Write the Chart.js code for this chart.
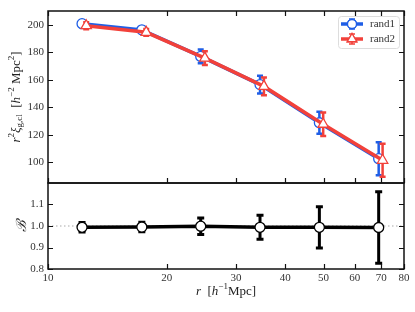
<!DOCTYPE html>
<html>
<head>
<meta charset="utf-8">
<script src="https://cdn.jsdelivr.net/npm/chart.js@4/dist/chart.umd.min.js"></script>
<style>
  body { margin: 0; background: #fff; }
  #wrap { position: relative; width: 415px; height: 312px; overflow: hidden; }
  canvas { position: absolute; left: 0; }
  #top { top: 0; }
  #bot { top: 160px; }
</style>
</head>
<body>
<div id="wrap">
  <canvas id="top" width="415" height="210"></canvas>
  <canvas id="bot" width="415" height="152"></canvas>
</div>
<script>
// separation bins (blue), red series is drawn slightly shifted right
const radii = [12.2, 17.3, 24.4, 34.5, 48.8, 69.0];
const radiiShift = [12.5, 17.75, 25.0, 35.3, 49.9, 70.6];

const rand1 = [200.8, 196.3, 177.0, 156.5, 128.8, 102.7];
const rand1Err = [2.5, 2.5, 5.0, 6.5, 8.0, 12.0];
const rand2 = [199.3, 194.5, 175.7, 155.2, 127.7, 101.5];
const rand2Err = [2.5, 2.5, 5.0, 6.5, 8.5, 12.0];

const ratio = [0.994, 0.995, 0.999, 0.994, 0.994, 0.993];
const ratioErr = [0.022, 0.022, 0.038, 0.056, 0.096, 0.166];

const xTicks = [10, 20, 30, 40, 50, 60, 70, 80];
const yTicksTop = [100, 120, 140, 160, 180, 200];
const yTicksBot = [0.8, 0.9, 1.0, 1.1];

const BLUE = '#1f5ee6';
const RED = '#f2413a';
const SERIF = "'Liberation Serif', 'DejaVu Serif', serif";

Chart.defaults.font.family = SERIF;
Chart.defaults.color = '#222';

function pts(xs, ys) {
    return xs.map((x, i) => ({ x: x, y: ys[i] }));
}

// inward ticks + frame
const framePlugin = {
    id: 'frame',
    afterDraw(chart, args, opts) {
        const c = chart.ctx, a = chart.chartArea;
        const xs = chart.scales.x, ys = chart.scales.y;
        c.save();
        c.strokeStyle = '#111';
        c.lineWidth = 1.2;
        xTicks.forEach(t => {
            const px = Math.round(xs.getPixelForValue(t)) + 0.5;
            c.beginPath();
            c.moveTo(px, a.bottom); c.lineTo(px, a.bottom - 5);
            if (opts.topTicks) { c.moveTo(px, a.top); c.lineTo(px, a.top + 5); }
            c.stroke();
        });
        opts.yTicks.forEach(t => {
            const py = Math.round(ys.getPixelForValue(t)) + 0.5;
            c.beginPath();
            c.moveTo(a.left, py); c.lineTo(a.left + 5, py);
            c.moveTo(a.right, py); c.lineTo(a.right - 5, py);
            c.stroke();
        });
        c.lineWidth = 1.5;
        c.strokeRect(a.left, a.top, a.right - a.left, a.bottom - a.top);
        c.restore();
    }
};

// error bars, drawn from the data arrays through the scales
function drawErr(chart, xs, ys, errs, color, width, cap) {
    const c = chart.ctx;
    const sx = chart.scales.x, sy = chart.scales.y;
    c.save();
    c.strokeStyle = color;
    c.lineWidth = width;
    xs.forEach((x, i) => {
        const px = sx.getPixelForValue(x);
        const y0 = sy.getPixelForValue(ys[i] - errs[i]);
        const y1 = sy.getPixelForValue(ys[i] + errs[i]);
        c.beginPath();
        c.moveTo(px, y0); c.lineTo(px, y1);
        c.moveTo(px - cap, y0); c.lineTo(px + cap, y0);
        c.moveTo(px - cap, y1); c.lineTo(px + cap, y1);
        c.stroke();
    });
    c.restore();
}

const topErr = {
    id: 'topErr',
    beforeDatasetDraw(chart, args) {
        if (args.index === 0) drawErr(chart, radii, rand1, rand1Err, BLUE, 2.5, 3);
        if (args.index === 1) drawErr(chart, radiiShift, rand2, rand2Err, RED, 2.5, 3);
    }
};

const topDecor = {
    id: 'topDecor',
    afterDraw(chart) {
        const c = chart.ctx;
        // y title
        c.save();
        c.translate(17, 97);
        c.rotate(-Math.PI / 2);
        c.fillStyle = '#222';
        c.textBaseline = 'middle';
        const parts = [
            ['r', 'italic 13px', 0], ['2', '9px', -5], ['ξ', 'italic 13px', 0],
            ['g,cl', '9px', 3], ['  [', '13px', 0], ['h', 'italic 13px', 0],
            ['−2', '9px', -5], [' Mpc', '13px', 0], ['2', '9px', -5], [']', '13px', 0]
        ];
        let w = 0;
        parts.forEach(p => { c.font = p[1] + ' ' + SERIF; w += c.measureText(p[0]).width; });
        let x = -w / 2;
        parts.forEach(p => {
            c.font = p[1] + ' ' + SERIF;
            c.fillText(p[0], x, p[2]);
            x += c.measureText(p[0]).width;
        });
        c.restore();

        // legend
        c.save();
        const lx = 338, ly = 16, lw = 61, lh = 32;
        c.fillStyle = 'rgba(255,255,255,0.9)';
        c.strokeStyle = '#ddd';
        c.lineWidth = 1;
        c.beginPath();
        c.roundRect(lx + 0.5, ly + 0.5, lw, lh, 3);
        c.fill(); c.stroke();
        const rows = [['rand1', BLUE, 'circle', 24], ['rand2', RED, 'triangle', 39]];
        rows.forEach(r => {
            const y = r[3];
            c.strokeStyle = r[1];
            c.lineWidth = 3.5;
            c.beginPath(); c.moveTo(341, y); c.lineTo(363, y); c.stroke();
            c.lineWidth = 1.5;
            c.beginPath();
            c.moveTo(352, y - 5); c.lineTo(352, y + 5);
            c.moveTo(349, y - 5); c.lineTo(355, y - 5);
            c.moveTo(349, y + 5); c.lineTo(355, y + 5);
            c.stroke();
            c.fillStyle = '#fff';
            c.lineWidth = 1.3;
            Chart.helpers.drawPoint(c, { pointStyle: r[2], radius: r[2] === 'circle' ? 4.5 : 5.5, borderWidth: 1.3 }, 352, y);
            c.fill(); c.stroke();
            c.fillStyle = '#333';
            c.font = '11px ' + SERIF;
            c.textBaseline = 'middle';
            c.fillText(r[0], 370, y + 0.5);
        });
        c.restore();
    }
};

new Chart(document.getElementById('top'), {
    type: 'line',
    data: {
        datasets: [
            {
                label: 'rand1', data: pts(radii, rand1), order: 1,
                borderColor: BLUE, borderWidth: 3.5,
                pointStyle: 'circle', pointRadius: 5, pointBorderWidth: 1.3,
                pointBackgroundColor: '#fff', pointBorderColor: BLUE
            },
            {
                label: 'rand2', data: pts(radiiShift, rand2), order: 0,
                borderColor: RED, borderWidth: 3.5,
                pointStyle: 'triangle', pointRadius: 6, pointBorderWidth: 1.3,
                pointBackgroundColor: '#fff', pointBorderColor: RED
            }
        ]
    },
    options: {
        responsive: false,
        animation: false,
        layout: { padding: { top: 11, bottom: 27, left: 0, right: 11 } },
        plugins: {
            legend: { display: false },
            tooltip: { enabled: false },
            frame: { topTicks: true, yTicks: yTicksTop }
        },
        scales: {
            x: {
                type: 'logarithmic', min: 10, max: 80, display: false
            },
            y: {
                min: 85, max: 210,
                grid: { display: false, drawTicks: false },
                border: { display: false },
                afterBuildTicks: s => { s.ticks = yTicksTop.map(v => ({ value: v })); },
                afterFit: s => { s.width = 48; },
                ticks: { font: { size: 11 }, padding: 4, color: '#333' }
            }
        }
    },
    plugins: [framePlugin, topErr, topDecor]
});

const botErr = {
    id: 'botErr',
    beforeDatasetsDraw(chart) {
        const c = chart.ctx, a = chart.chartArea;
        const py = chart.scales.y.getPixelForValue(1.0);
        c.save();
        c.strokeStyle = '#aaa';
        c.lineWidth = 1.2;
        c.setLineDash([1.5, 2.5]);
        c.beginPath(); c.moveTo(a.left, py); c.lineTo(a.right, py); c.stroke();
        c.restore();
        drawErr(chart, radii, ratio, ratioErr, '#000', 3, 3.5);
    }
};

const botDecor = {
    id: 'botDecor',
    afterDraw(chart) {
        const c = chart.ctx, a = chart.chartArea;
        c.save();
        c.fillStyle = '#222';
        c.textBaseline = 'middle';
        // x title
        const parts = [['r', 'italic 13px', 0], ['  [', '13px', 0], ['h', 'italic 13px', 0],
            ['−1', '9px', -5], ['Mpc]', '13px', 0]];
        let w = 0;
        c.textAlign = 'left';
        parts.forEach(p => { c.font = p[1] + ' ' + SERIF; w += c.measureText(p[0]).width; });
        let x = 226 - w / 2;
        parts.forEach(p => {
            c.font = p[1] + ' ' + SERIF;
            c.fillText(p[0], x, a.bottom + 23 + p[2]);
            x += c.measureText(p[0]).width;
        });
        // y title
        c.translate(22, (a.top + a.bottom) / 2);
        c.rotate(-Math.PI / 2);
        c.textAlign = 'center';
        c.font = 'italic 14px ' + SERIF;
        c.fillText('ℬ', 0, 0);
        c.restore();
    }
};

new Chart(document.getElementById('bot'), {
    type: 'line',
    data: {
        datasets: [{
            label: 'ratio', data: pts(radii, ratio),
            borderColor: '#000', borderWidth: 3.5,
            pointStyle: 'circle', pointRadius: 5, pointBorderWidth: 1.3,
            pointBackgroundColor: '#fff', pointBorderColor: '#000'
        }]
    },
    options: {
        responsive: false,
        animation: false,
        layout: { padding: { top: 23, bottom: 0, left: 0, right: 11 } },
        plugins: {
            legend: { display: false },
            tooltip: { enabled: false },
            frame: { topTicks: false, yTicks: yTicksBot }
        },
        scales: {
            x: {
                type: 'logarithmic', min: 10, max: 80,
                grid: { display: false, drawTicks: false },
                border: { display: false },
                afterBuildTicks: s => { s.ticks = xTicks.map(v => ({ value: v })); },
                afterFit: s => { s.height = 43; },
                ticks: {
                    font: { size: 11 }, padding: 3, color: '#333',
                    autoSkip: false, maxRotation: 0,
                    callback: v => String(v)
                }
            },
            y: {
                min: 0.8, max: 1.2,
                grid: { display: false, drawTicks: false },
                border: { display: false },
                afterBuildTicks: s => { s.ticks = yTicksBot.map(v => ({ value: v })); },
                afterFit: s => { s.width = 48; },
                ticks: { font: { size: 11 }, padding: 4, color: '#333', callback: v => v.toFixed(1) }
            }
        }
    },
    plugins: [framePlugin, botErr, botDecor]
});
</script>
</body>
</html>
